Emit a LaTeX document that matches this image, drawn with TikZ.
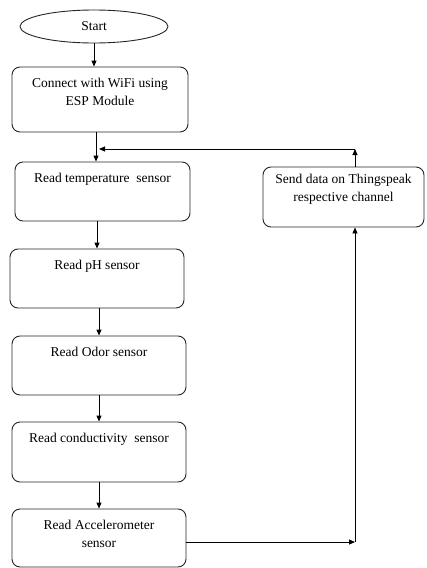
\documentclass[tikz,border=0pt]{standalone}
\usepackage{fontspec}
\setmainfont{Liberation Serif}
\usetikzlibrary{shapes.geometric,arrows.meta}
\begin{document}
\begin{tikzpicture}[x=1pt,y=-1pt,
  every node/.style={font=\fontsize{13.5}{18.5}\selectfont},
  stepbox/.style={draw=black!85, line width=0.9pt, rounded corners=8pt, inner sep=0pt},
  boxtext/.style={anchor=north, yshift=-11pt, align=center, inner sep=0pt},
  arr/.style={draw=black, line width=0.9pt, -{Triangle[length=6pt,width=5pt]}}]
  \useasboundingbox (0,0) rectangle (427,568);

  % terminal
  \node[ellipse, draw=black!85, line width=0.9pt, minimum width=148pt, minimum height=33pt, inner sep=0pt] (start) at (94,26.5) {Start};

  % process boxes (text sits near the top edge)
  \node[stepbox, minimum width=176pt, minimum height=65pt,
        label={[boxtext]north:Connect with WiFi using\\ESP Module}] (conn) at (100,99.5) {};
  \node[stepbox, minimum width=175pt, minimum height=59pt,
        label={[boxtext]north:Read temperature\ \ sensor}] (temp) at (102.5,191.5) {};
  \node[stepbox, minimum width=174pt, minimum height=59pt,
        label={[boxtext]north:Read pH sensor}] (ph) at (97,278.5) {};
  \node[stepbox, minimum width=174pt, minimum height=59pt,
        label={[boxtext]north:Read Odor sensor}] (odor) at (99,365.5) {};
  \node[stepbox, minimum width=174pt, minimum height=60pt,
        label={[boxtext]north:Read conductivity\ \ sensor}] (cond) at (99,452) {};
  \node[stepbox, minimum width=174pt, minimum height=58pt,
        label={[boxtext]north:Read Accelerometer\\sensor}] (accel) at (99,538) {};
  \node[stepbox, minimum width=161pt, minimum height=60pt,
        label={[boxtext, yshift=4pt]north:Send data on Thingspeak\\respective channel}] (send) at (343.5,197) {};

  % routing points of the loop back
  \coordinate (corner) at (355,542);
  \coordinate (top) at (355,149);
  \coordinate (join) at (99,149);

  % main sequence
  \draw[arr] (start.south) -- (start.south |- conn.north);
  \draw[arr] ([xshift=-4pt]conn.south) -- ([xshift=-4pt]conn.south |- temp.north);
  \draw[arr] (temp.south -| ph.north) -- (ph.north);
  \draw[arr] (ph.south -| odor.north) -- (odor.north);
  \draw[arr] (odor.south) -- (cond.north);
  \draw[arr] (cond.south) -- (accel.north);

  % upload and loop back
  \draw[arr] (accel.east |- corner) -- (corner);
  \draw[arr] (corner) -- (corner |- send.south);
  \draw[arr] (corner |- send.north) -- (top);
  \draw[arr] (top) -- (join);
\end{tikzpicture}
\end{document}
